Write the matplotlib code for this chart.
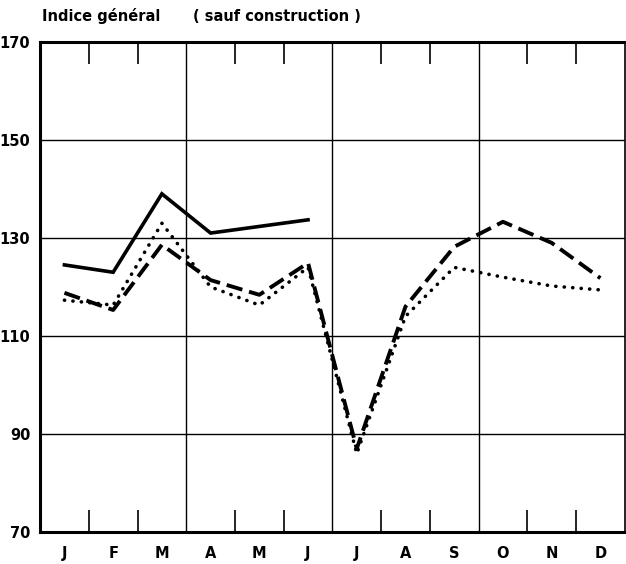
import numpy as np
import matplotlib
matplotlib.use('Agg')
import matplotlib.pyplot as plt
from matplotlib import font_manager
from matplotlib.ticker import FixedLocator

# mois
mois = ['J', 'F', 'M', 'A', 'M', 'J', 'J', 'A', 'S', 'O', 'N', 'D']

# serie trait plein (pas de valeur pour mai)
plein_idx = [0, 1, 2, 3, 5]
plein_val = [124.5, 123.0, 139.0, 131.0, 133.7]

# serie tirets
tirets_val = [118.8, 115.3, 128.6, 121.4, 118.4, 124.9, 87.0, 116.0, 128.2, 133.3, 129.0, 121.8]

# serie pointilles
points_val = [117.3, 116.3, 133.0, 120.0, 116.3, 124.0, 86.0, 114.0, 124.0, 122.0, 120.2, 119.4]

y_ticks = [70, 90, 110, 130, 150, 170]

noms = {f.name for f in font_manager.fontManager.ttflist}
familles = [n for n in ['Liberation Sans Narrow', 'DejaVu Sans Condensed'] if n in noms]
plt.rcParams['font.family'] = familles + ['DejaVu Sans']
etroit = 'Liberation Sans Narrow' in noms or 'DejaVu Sans Condensed' in noms

fig = plt.figure(figsize=(6.26, 5.64), dpi=100)
ax = fig.add_axes([0.064, 0.0567, 0.934, 0.869])

x = np.arange(len(mois))
ax.plot(plein_idx, plein_val, color='black', lw=2.6, solid_joinstyle='miter', zorder=4)
ax.plot(x, tirets_val, color='black', lw=2.8, dashes=(4.2, 1.8), zorder=4)
ax.plot(x, points_val, color='black', lw=2.6, dashes=(0.05, 2.3),
        dash_capstyle='round', zorder=4)

ax.set_xlim(-0.5, 11.5)
ax.set_ylim(70, 170)

# grille
for yv in y_ticks[1:-1]:
    ax.axhline(yv, color='black', lw=1.0, zorder=1)
for xv in [2.5, 5.5, 8.5]:
    ax.axvline(xv, color='black', lw=1.0, zorder=1)

taille = 12 if etroit else 10.5
etire = 'condensed' if etroit else 'normal'

ax.set_xticks(x)
ax.set_xticklabels(mois, fontsize=taille, fontweight='bold', fontstretch=etire)
ax.xaxis.set_minor_locator(FixedLocator([0.5, 1.5, 3.5, 4.5, 6.5, 7.5, 9.5, 10.5]))
ax.tick_params(axis='x', which='major', length=0, pad=10)
ax.tick_params(axis='x', which='minor', direction='in', length=16, width=1.2,
               top=True, bottom=True)

ax.set_yticks(y_ticks)
ax.set_yticklabels([str(v) for v in y_ticks], fontsize=taille, fontweight='bold',
                   fontstretch=etire)
ax.tick_params(axis='y', length=0, pad=7)

for s in ['left', 'top', 'bottom']:
    ax.spines[s].set_linewidth(2.2)
ax.spines['right'].set_linewidth(1.2)

fig.text(0.067, 0.962, 'Indice général', fontsize=taille, fontweight='bold',
         fontstretch=etire, ha='left')
fig.text(0.308, 0.962, '( sauf construction )', fontsize=taille, fontweight='bold',
         fontstretch=etire, ha='left')

fig.savefig('out.png', dpi=100)
